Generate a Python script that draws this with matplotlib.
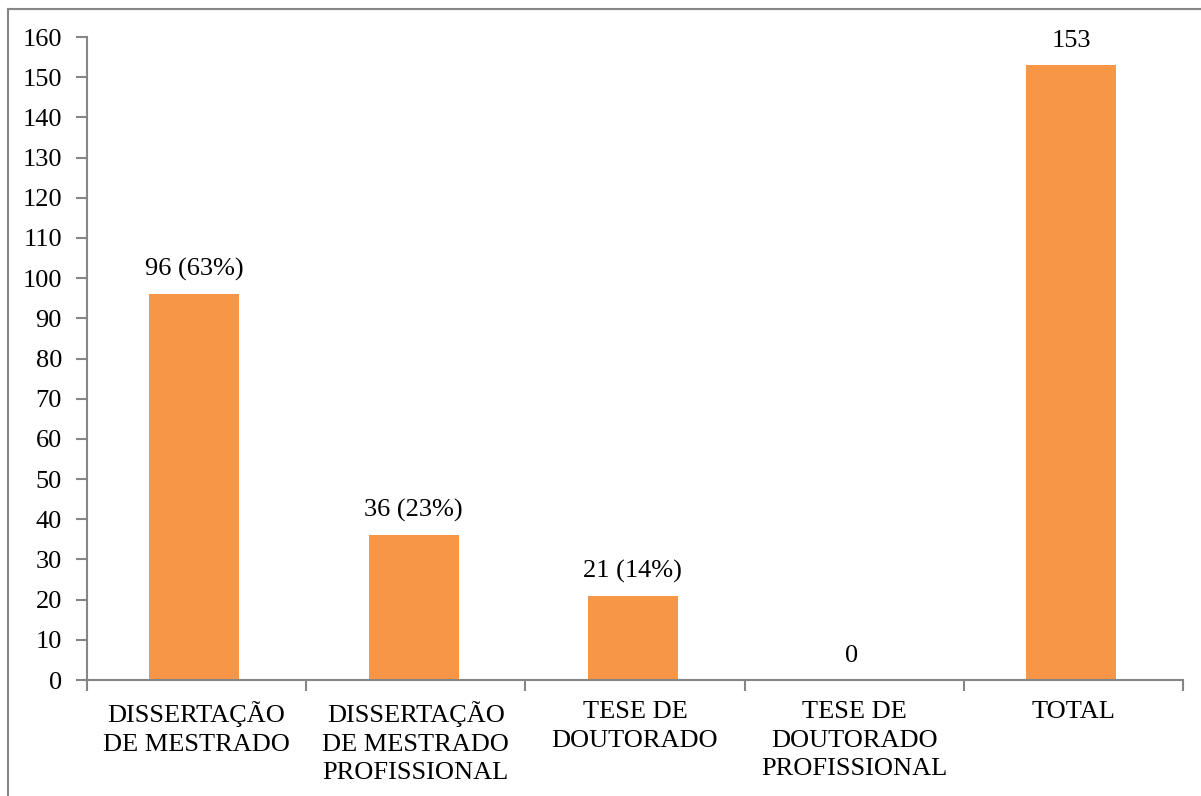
import matplotlib.pyplot as plt
from matplotlib.lines import Line2D
import numpy as np

# Produção por tipo de trabalho
categorias = ['DISSERTAÇÃO\nDE MESTRADO', 'DISSERTAÇÃO\nDE MESTRADO\nPROFISSIONAL',
              'TESE DE\nDOUTORADO', 'TESE DE\nDOUTORADO\nPROFISSIONAL', 'TOTAL']
valores = [96, 36, 21, 0, 153]
rotulos = ['96 (63%)', '36 (23%)', '21 (14%)', '0', '153']

plt.rcParams['font.family'] = ['Liberation Serif', 'DejaVu Serif']
cinza = '#868686'
fs = 19

fig = plt.figure(figsize=(12.01, 7.96), dpi=100)
ax = fig.add_axes([0.0724, 0.1457, 0.9126, 0.8078])

x = np.arange(len(valores))
ax.bar(x - 0.01, valores, width=0.41, color='#F79646', zorder=2)
for xi, v, r in zip(x, valores, rotulos):
    ax.text(xi - 0.01, v + 3.2, r, ha='center', va='bottom', fontsize=fs)

ax.set_xlim(-0.5, len(valores) - 0.5)
ax.set_ylim(0, 160)
ax.set_yticks(range(0, 161, 10))
ax.set_xticks(x)
ax.set_xticklabels(categorias, fontsize=fs, linespacing=1.4, va='top')
ax.set_xticks(np.arange(-0.5, len(valores)), minor=True)
ax.tick_params(axis='x', which='major', length=0, pad=15)
ax.tick_params(axis='x', which='minor', length=8, color=cinza, width=1.5, direction='out')
ax.tick_params(axis='y', length=8, color=cinza, width=1.5, labelsize=fs, pad=10)

for lado in ['top', 'right']:
    ax.spines[lado].set_visible(False)
for lado in ['left', 'bottom']:
    ax.spines[lado].set_color(cinza)
    ax.spines[lado].set_linewidth(1.5)

# moldura da área do gráfico
fig.add_artist(Line2D([8 / 1201, 1], [1 - 9 / 796, 1 - 9 / 796], color=cinza, lw=1.5))
fig.add_artist(Line2D([8 / 1201, 8 / 1201], [0, 1 - 9 / 796], color=cinza, lw=1.5))

fig.savefig('out.png', dpi=100)
